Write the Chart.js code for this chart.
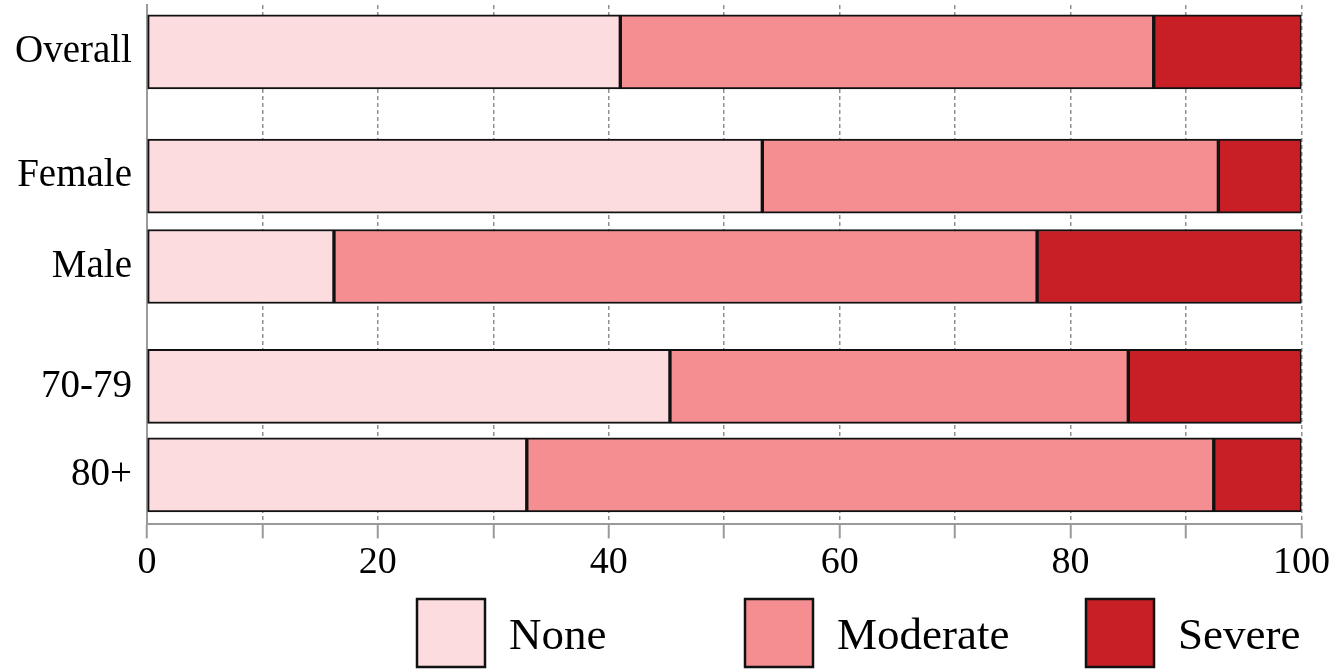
<!DOCTYPE html>
<html>
<head>
<meta charset="utf-8">
<script src="https://cdn.jsdelivr.net/npm/chart.js@4.4.1/dist/chart.umd.min.js"></script>
<style>
  html, body { margin: 0; padding: 0; background: #fff; }
  #wrap { width: 1332px; height: 671px; position: relative; }
</style>
</head>
<body>
<div id="wrap"><canvas id="c" width="1332" height="671"></canvas></div>
<script>
const categories = ['Overall', 'Female', 'Male', '70-79', '80+'];
const rowPositions = [0, 1.39, 2.40, 3.74, 4.73];
const seriesNames = ['None', 'Moderate', 'Severe'];
const noneValues = [41.0, 53.3, 16.2, 45.3, 32.9];
const moderateValues = [46.2, 39.5, 60.9, 39.7, 59.5];
const severeValues = [12.8, 7.2, 22.9, 15.0, 7.6];
const xTickLabels = [0, 20, 40, 60, 80, 100];

const colors = ['#FCDCDE', '#F48E91', '#C81F26'];
const FONT = 'Liberation Serif';

function toPoints(values) {
  return values.map((v, i) => ({ x: v, y: rowPositions[i] }));
}

const legendPlugin = {
  id: 'boxLegend',
  afterDraw(chart, args, opts) {
    const ctx = chart.ctx;
    ctx.save();
    ctx.font = opts.size + 'px "' + FONT + '"';
    ctx.textBaseline = 'middle';
    ctx.textAlign = 'left';
    chart.data.datasets.forEach((ds, i) => {
      const x = opts.starts[i];
      ctx.fillStyle = ds.backgroundColor;
      ctx.fillRect(x, opts.top, opts.box, opts.box);
      ctx.lineWidth = 2.5;
      ctx.strokeStyle = '#111';
      ctx.strokeRect(x, opts.top, opts.box, opts.box);
      ctx.fillStyle = '#000';
      ctx.fillText(ds.label, x + opts.box + opts.gap, opts.top + opts.box / 2 + 4);
    });
    ctx.restore();
  }
};

const ds = [noneValues, moderateValues, severeValues].map((vals, i) => ({
  label: seriesNames[i],
  data: toPoints(vals),
  backgroundColor: colors[i],
  borderColor: '#111',
  borderWidth: 2,
  borderSkipped: false,
  barThickness: 74
}));

new Chart(document.getElementById('c'), {
  type: 'bar',
  data: { datasets: ds },
  plugins: [legendPlugin],
  options: {
    responsive: false,
    animation: false,
    indexAxis: 'y',
    layout: { padding: { left: 0, right: 29, top: 5, bottom: 83 } },
    plugins: {
      legend: { display: false },
      tooltip: { enabled: false },
      boxLegend: { starts: [417, 745, 1086], top: 599, box: 68, gap: 24, size: 45 }
    },
    scales: {
      x: {
        type: 'linear',
        stacked: true,
        min: 0,
        max: 100,
        offset: false,
        ticks: {
          stepSize: 10,
          padding: 2,
          color: '#000',
          font: { family: FONT, size: 38 },
          callback: (v) => xTickLabels.includes(v) ? String(v) : ''
        },
        grid: {
          color: '#8f8f8f',
          lineWidth: 1.5,
          tickLength: 14,
          tickColor: '#9a9a9a',
          tickWidth: 2,
          tickBorderDash: []
        },
        border: { display: true, color: '#9a9a9a', width: 2, dash: [4, 3] }
      },
      y: {
        type: 'linear',
        stacked: true,
        reverse: true,
        offset: false,
        min: -0.524,
        max: 5.284,
        afterBuildTicks: (axis) => { axis.ticks = rowPositions.map(v => ({ value: v })); },
        afterFit: (axis) => { axis.paddingTop = 0; axis.paddingBottom = 0; },
        ticks: {
          autoSkip: false,
          padding: 15,
          color: '#000',
          font: { family: FONT, size: 39, lineHeight: 0.3 },
          callback: (v) => { const i = rowPositions.indexOf(v); return i >= 0 ? categories[i] : ''; }
        },
        grid: { display: false, drawTicks: false },
        border: { display: true, color: '#9a9a9a', width: 2 }
      }
    }
  }
});
</script>
</body>
</html>
